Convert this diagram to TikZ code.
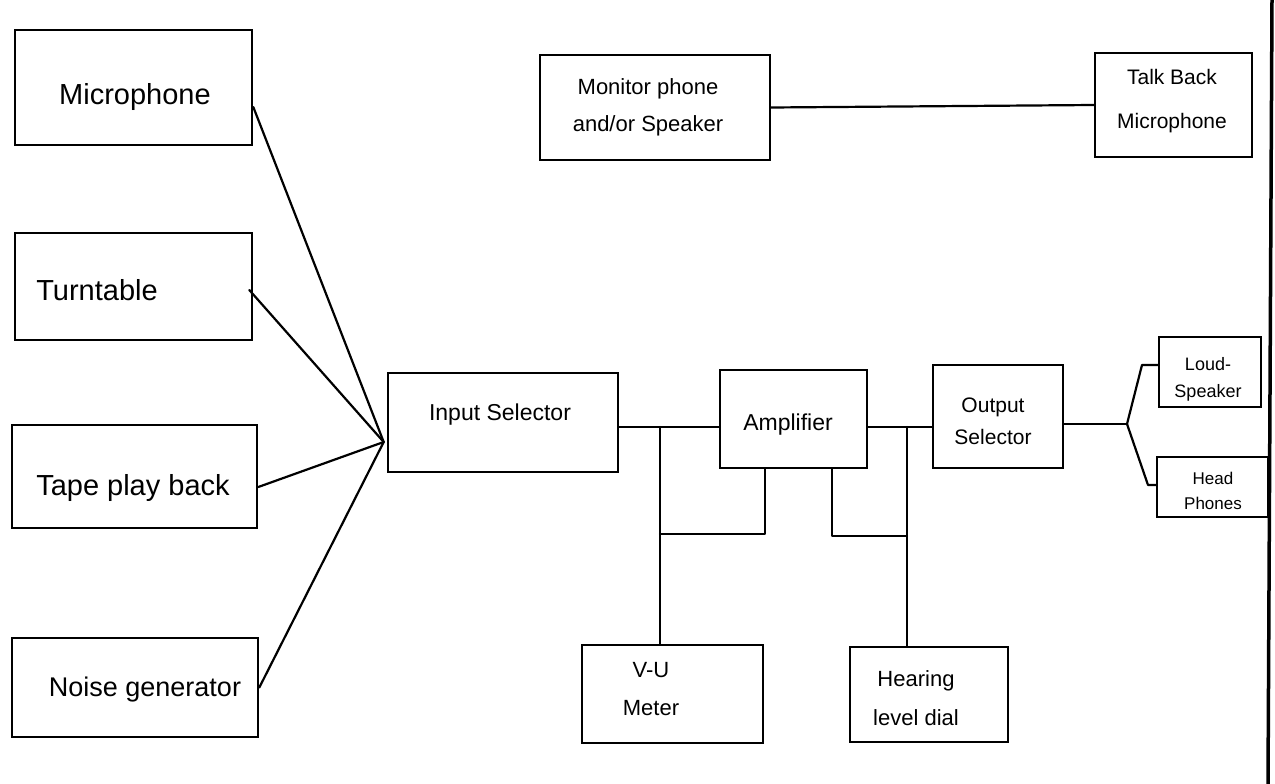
\documentclass[tikz,border=0pt]{standalone}
\usepackage{fontspec}
\setmainfont{Liberation Sans}
\usetikzlibrary{calc}
\tikzset{
  box/.style={draw, line width=2.6pt, rectangle, inner sep=0pt},
  wire/.style={line width=2.2pt, line join=round, line cap=round},
  txt/.style={align=center, inner sep=0pt},
  big/.style={font=\fontsize{29}{34}\selectfont},
  mid/.style={font=\fontsize{23}{38}\selectfont},
  sml/.style={font=\fontsize{18}{27}\selectfont}
}
\begin{document}
\begin{tikzpicture}[x=1pt,y=-1pt]
\useasboundingbox (0,0) rectangle (1275,784);
% boxes
\node[box, minimum width=237, minimum height=115] (mic) at (133.5,87.5) {};
\node[box, minimum width=237, minimum height=107] (turn) at (133.5,286.5) {};
\node[box, minimum width=245, minimum height=103] (tape) at (134.5,476.5) {};
\node[box, minimum width=246, minimum height=99] (noise) at (135,687.5) {};
\node[box, minimum width=230, minimum height=99] (insel) at (503,422.5) {};
\node[box, minimum width=147, minimum height=98] (amp) at (793.5,419) {};
\node[box, minimum width=130, minimum height=103] (outsel) at (998,416.5) {};
\node[box, minimum width=102, minimum height=70] (loud) at (1210,372) {};
\node[box, minimum width=111, minimum height=60] (head) at (1212.5,487) {};
\node[box, minimum width=230, minimum height=105] (mon) at (655,107.5) {};
\node[box, minimum width=157, minimum height=104] (talk) at (1173.5,105) {};
\node[box, minimum width=181, minimum height=98] (vu) at (672.5,694) {};
\node[box, minimum width=158, minimum height=95] (hear) at (929,694.5) {};
% texts
\node[txt, big] (tmic) at (135,97) {Microphone};
\node[txt, big] (tturn) at (97,290) {Turntable};
\node[txt, big] (ttape) at (133,488) {Tape play back};
\node[txt, font=\fontsize{27}{32}\selectfont] (tnoise) at (145,690) {Noise generator};
\node[txt, mid] (tinsel) at (500,415) {Input Selector};
\node[txt, mid] (tamp) at (788,425) {Amplifier};
\node[txt, font=\fontsize{21}{32}\selectfont] (toutsel) at (993,421) {Output\\Selector};
\node[txt, font=\fontsize{22}{37}\selectfont] (tmon) at (648,107) {Monitor phone\\and/or Speaker};
\node[txt, font=\fontsize{21}{44}\selectfont] (ttalk) at (1172,101) {Talk Back\\Microphone};
\node[txt, sml] (tloud) at (1208,379) {Loud-\\Speaker};
\node[txt, font=\fontsize{17}{25}\selectfont] (thead) at (1213,491) {Head\\Phones};
\node[txt, font=\fontsize{22}{38}\selectfont] (tvu) at (651,689) {V-U\\Meter};
\node[txt, font=\fontsize{22}{39}\selectfont] (thear) at (916,698) {Hearing\\level dial};
% convergence into input selector
\coordinate (cin) at ($(insel.west)+(-3,19.5)$);
\draw[wire] ($(mic.east)+(0,19.5)$) -- (cin);
\draw[wire] ($(turn.east)+(-4,3.5)$) -- (cin);
\draw[wire] ($(tape.east)+(0,10.5)$) -- (cin);
\draw[wire] (noise.east) -- (cin);
% input selector -> amplifier, with V-U meter tap
\coordinate (j1) at (660,427);
\coordinate (k1) at (765,534);
\draw[wire] ($(insel.east)+(0,4.5)$) -- (j1) -- (j1 -| amp.west);
\draw[wire] (j1) -- (j1 |- vu.north);
\draw[wire] (k1 |- amp.south) -- (k1) -- (k1 -| j1);
% amplifier -> output selector, with hearing level tap
\coordinate (j2) at (907,427);
\coordinate (k2) at (832,536);
\draw[wire] (j2 -| amp.east) -- (j2) -- (j2 -| outsel.west);
\draw[wire] (j2) -- (j2 |- hear.north);
\draw[wire] (k2 |- amp.south) -- (k2) -- (k2 -| j2);
% output selector split
\coordinate (s) at (1127,424);
\coordinate (u) at (1142,365);
\coordinate (d) at (1148,485);
\draw[wire] (s -| outsel.east) -- (s);
\draw[wire] (s) -- (u) -- (u -| loud.west);
\draw[wire] (s) -- (d) -- (d -| head.west);
% monitor -> talk back
\draw[wire] (mon.east) -- (talk.west);
% page edge line
\draw[line width=3.5pt] (1272,0) -- (1268,784);
\end{tikzpicture}
\end{document}
